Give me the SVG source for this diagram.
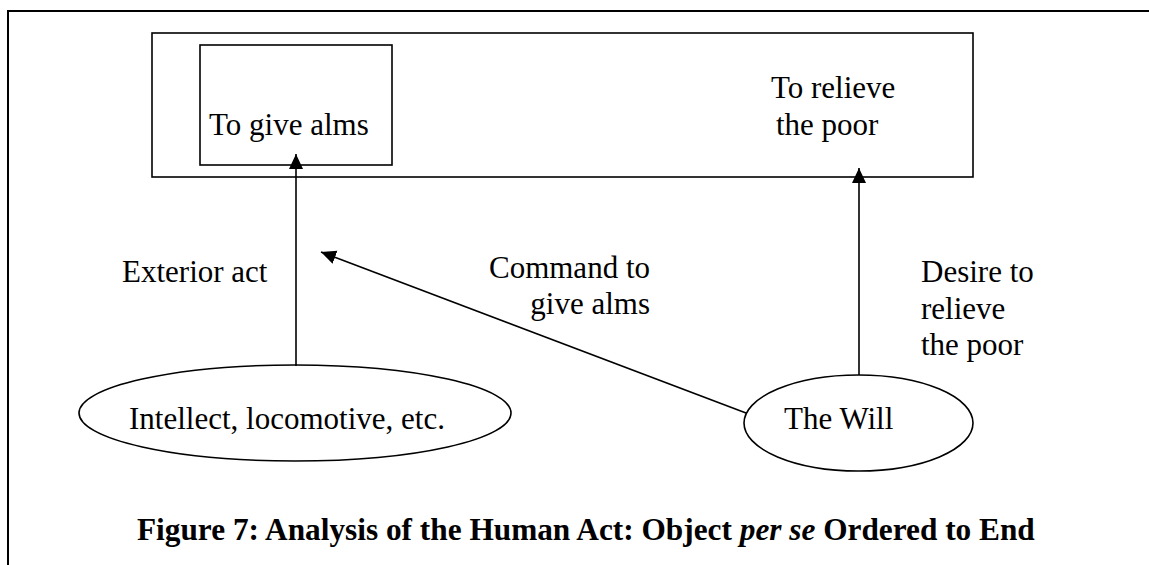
<svg xmlns="http://www.w3.org/2000/svg" width="1149" height="565" viewBox="0 0 1149 565">
<style>
  .t { font-family: "Liberation Serif", "Times New Roman", serif; font-size: 31px; fill: #000; }
  .cap { font-family: "Liberation Serif", "Times New Roman", serif; font-size: 31.3px; font-weight: bold; fill: #000; }
  .box { fill: #fff; stroke: #000; stroke-width: 1.6; }
  .conn { fill: none; stroke: #000; stroke-width: 1.6; }
</style>
<defs>
  <marker id="arrow" markerUnits="userSpaceOnUse" markerWidth="16" markerHeight="15" refX="15" refY="7" orient="auto">
    <path d="M0,0 L15,7 L0,14 z" fill="#000"/>
  </marker>
</defs>
<rect width="1149" height="565" fill="#fff"/>
<g id="frame">
  <path d="M8,565 L8,11 L1149,11" fill="none" stroke="#000" stroke-width="2"/>
</g>
<g id="end-box">
  <rect class="box" x="152" y="33" width="821" height="144"/>
  <text class="t"><tspan x="771" y="98">To relieve</tspan><tspan x="776" y="135">the poor</tspan></text>
</g>
<g id="object-box">
  <rect class="box" x="200" y="45" width="192" height="120"/>
  <text class="t" x="209" y="135">To give alms</text>
</g>
<g id="intellect">
  <ellipse class="box" cx="295" cy="413" rx="216" ry="48"/>
  <text class="t" x="129" y="429">Intellect, locomotive, etc.</text>
</g>
<g id="will">
  <ellipse class="box" cx="858.5" cy="423" rx="114.5" ry="48"/>
  <text class="t" x="784" y="429">The Will</text>
</g>
<g id="connectors">
  <line class="conn" x1="296" y1="366" x2="296" y2="154" marker-end="url(#arrow)"/>
  <line class="conn" x1="859" y1="375" x2="859" y2="168" marker-end="url(#arrow)"/>
  <line class="conn" x1="746" y1="413" x2="321" y2="252" marker-end="url(#arrow)"/>
  <text class="t" x="122" y="282">Exterior act</text>
  <text class="t" text-anchor="end"><tspan x="650" y="278">Command to</tspan><tspan x="650" y="314">give alms</tspan></text>
  <text class="t"><tspan x="921" y="282">Desire to</tspan><tspan x="921" y="319">relieve</tspan><tspan x="921" y="355">the poor</tspan></text>
</g>
<g id="caption">
  <text class="cap" x="137" y="540">Figure 7: Analysis of the Human Act: Object <tspan font-style="italic">per se</tspan> Ordered to End</text>
</g>
</svg>
